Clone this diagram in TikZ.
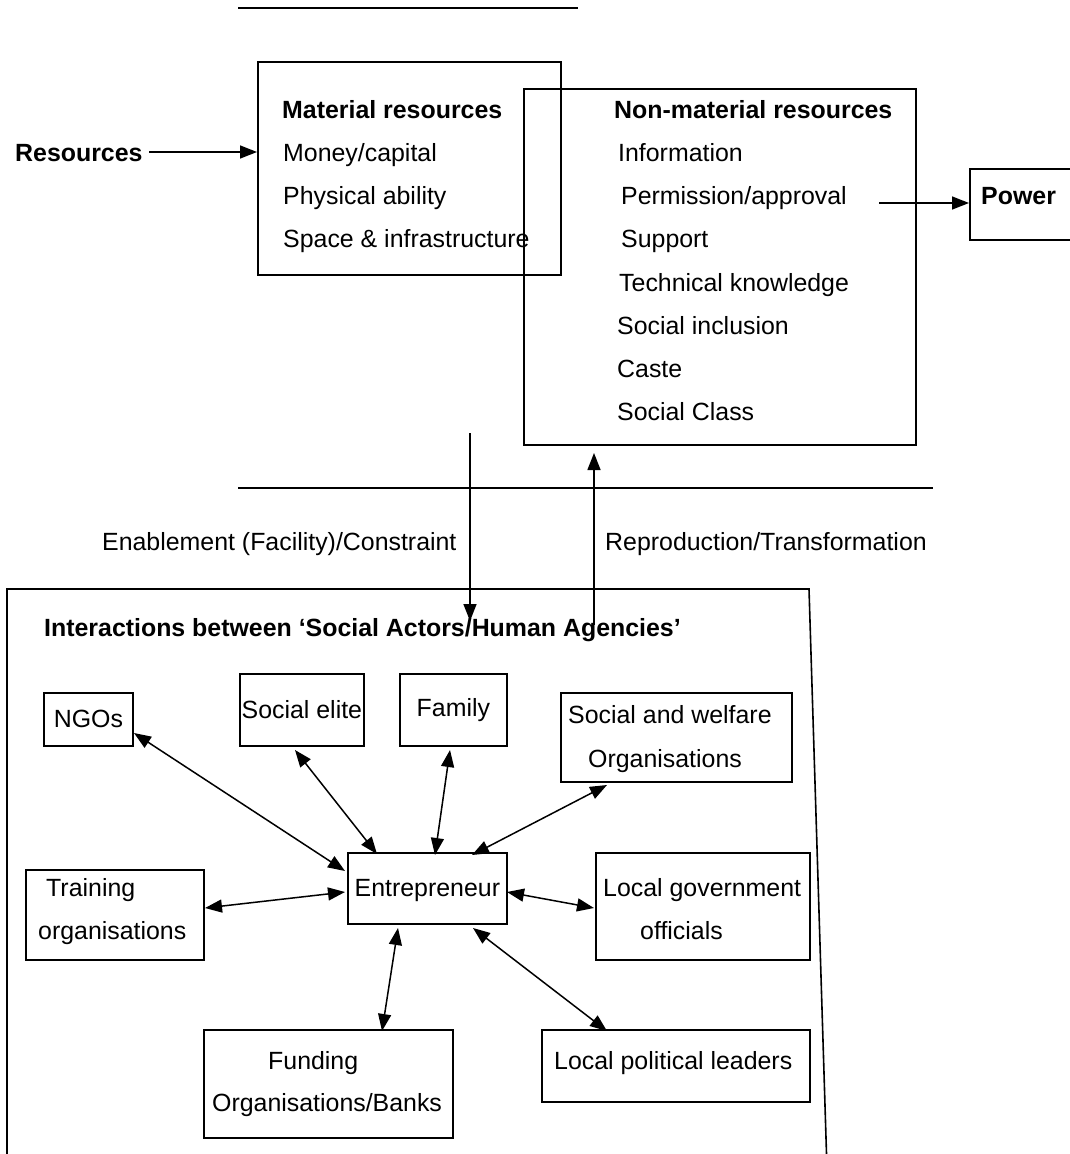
\documentclass[tikz,border=0pt]{standalone}
\usepackage{fontspec}
\setmainfont{Liberation Sans}
\usetikzlibrary{arrows.meta}
\begin{document}
\begin{tikzpicture}[x=1pt,y=-1pt,
  every node/.style={font=\fontsize{24.9}{29}\selectfont},
  txt/.style={anchor=base west, inner sep=0pt},
  bold/.style={txt, font=\fontsize{24.9}{29}\selectfont\bfseries},
  box/.style={draw, line width=1.8pt, inner sep=0pt, anchor=north west},
  rule/.style={line width=1.8pt},
  arr/.style={line width=1.5pt, -{Triangle[length=17pt,width=13pt]}},
  darr/.style={line width=1.5pt, {Triangle[length=17pt,width=13pt]}-{Triangle[length=17pt,width=13pt]}}]
\useasboundingbox (0,0) rectangle (1070,1154);
\clip (0,0) rectangle (1070,1154);
% top rule
\coordinate (t1) at (238,8); \coordinate (t2) at (578,8);
\draw[rule] (t1) -- (t2);
% resource boxes
\node[box, minimum width=303, minimum height=213] (mat) at (257,61) {};
\node[box, minimum width=392, minimum height=356] (nonmat) at (523,88) {};
\node[box, minimum width=150, minimum height=71] (power) at (969,168) {};
\node[bold] (res) at (15,161) {Resources};
\node[bold] (mathd) at (282,118) {Material resources};
\node[txt] (m1) at (283,161) {Money/capital};
\node[txt] (m2) at (283,204) {Physical ability};
\node[txt] (m3) at (283,247) {Space \& infrastructure};
\node[bold] (nmhd) at (614,118) {Non-material resources};
\node[txt] (n1) at (618,161) {Information};
\node[txt] (n2) at (621,204) {Permission/approval};
\node[txt] (n3) at (621,247) {Support};
\node[txt] (n4) at (619,291) {Technical knowledge};
\node[txt] (n5) at (617,334) {Social inclusion};
\node[txt] (n6) at (617,377) {Caste};
\node[txt] (n7) at (617,420) {Social Class};
\node[bold] (pw) at (981,204) {Power};
\coordinate (resA) at (149,152);
\draw[arr] (resA) -- (mat.west |- resA);
\coordinate (pwA) at (879,203);
\draw[arr] (pwA) -- (power.west |- pwA);
% middle
\coordinate (h1) at (238,488); \coordinate (h2) at (933,488);
\draw[rule] (h1) -- (h2);
\node[txt] (enab) at (102,550) {Enablement (Facility)/Constraint};
\node[txt] (repr) at (605,550) {Reproduction/Transformation};
\coordinate (dA) at (470,433); \coordinate (dB) at (470,621);
\draw[arr] (dA) -- (dB);
\coordinate (uA) at (594,625); \coordinate (uB) at (594,453);
\draw[arr] (uA) -- (uB);
% big frame
\coordinate (f1) at (7,1170); \coordinate (f2) at (7,589);
\coordinate (f3) at (809,589); \coordinate (f4) at (827,1170);
\draw[line width=1.6pt] (f1) -- (f2) -- (f3) -- (f4);
\node[bold] (inter) at (44,636) {Interactions between ‘Social Actors/Human Agencies’};
% actor boxes
\node[box, minimum width=89, minimum height=53] (ngo) at (43,692) {};
\node (ngot) at (ngo.center) {NGOs};
\node[box, minimum width=124, minimum height=72] (elite) at (239,673) {};
\node (elitet) at (elite.center) {Social elite};
\node[box, minimum width=107, minimum height=72] (fam) at (399,673) {};
\node (famt) at (fam.center) {Family};
\node[box, minimum width=231, minimum height=89] (welf) at (560,692) {};
\node[txt] (welf1) at (568,723) {Social and welfare};
\node[txt] (welf2) at (588,767) {Organisations};
\node[box, minimum width=159, minimum height=71] (ent) at (347,852) {};
\node (entt) at ([yshift=-2pt]ent.center) {Entrepreneur};
\node[box, minimum width=178, minimum height=90] (train) at (25,869) {};
\node[txt] (train1) at (46,896) {Training};
\node[txt] (train2) at (38,939) {organisations};
\node[box, minimum width=214, minimum height=107] (gov) at (595,852) {};
\node[txt] (gov1) at (603,896) {Local government};
\node[txt] (gov2) at (640,939) {officials};
\node[box, minimum width=249, minimum height=108] (fund) at (203,1029) {};
\node[txt] (fund1) at (268,1069) {Funding};
\node[txt] (fund2) at (212,1111) {Organisations/Banks};
\node[box, minimum width=268, minimum height=72] (pol) at (541,1029) {};
\node[txt] (pol1) at (554,1069) {Local political leaders};
% interaction arrows
\coordinate (a1) at (134,733); \coordinate (b1) at (345,871);
\draw[darr] (a1) -- (b1);
\coordinate (a2) at (295,750); \coordinate (b2) at (377,854);
\draw[darr] (a2) -- (b2);
\coordinate (a3) at (450,750); \coordinate (b3) at (435,855);
\draw[darr] (a3) -- (b3);
\coordinate (a4) at (607,785); \coordinate (b4) at (472,855);
\draw[darr] (a4) -- (b4);
\coordinate (a5) at (205,908); \coordinate (b5) at (345,892);
\draw[darr] (a5) -- (b5);
\coordinate (a6) at (507,892); \coordinate (b6) at (594,908);
\draw[darr] (a6) -- (b6);
\coordinate (a7) at (398,928); \coordinate (b7) at (382,1031);
\draw[darr] (a7) -- (b7);
\coordinate (a8) at (473,928); \coordinate (b8) at (607,1031);
\draw[darr] (a8) -- (b8);
\end{tikzpicture}
\end{document}
